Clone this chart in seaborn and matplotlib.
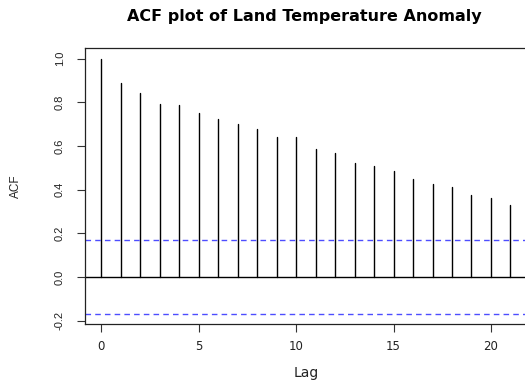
import matplotlib
matplotlib.use("Agg")
import matplotlib.pyplot as plt
import seaborn as sns
import pandas as pd

# Data
lags = list(range(22))
acf_values = [1.000, 0.887, 0.840, 0.790, 0.785, 0.750, 0.723, 0.700, 0.678,
              0.642, 0.639, 0.585, 0.567, 0.521, 0.508, 0.485, 0.448, 0.427,
              0.412, 0.375, 0.361, 0.328]
ci_bound = 0.168
y_ticks = [-0.2, 0.0, 0.2, 0.4, 0.6, 0.8, 1.0]
x_ticks = [0, 5, 10, 15, 20]

sns.set_style("ticks")
plt.rcParams['font.family'] = ['Liberation Sans', 'DejaVu Sans']

# long-form frame: each lag has a segment from 0 to its ACF value
rows = []
for lag, v in zip(lags, acf_values):
    rows.append({"lag": lag, "acf": 0.0})
    rows.append({"lag": lag, "acf": v})
df = pd.DataFrame(rows)

fig = plt.figure(figsize=(5.25, 3.81), dpi=100)
ax = fig.add_axes([85 / 525, 57 / 381, 441.8 / 525, 275.7 / 381])

sns.lineplot(data=df, x="lag", y="acf", units="lag", estimator=None,
             color="black", linewidth=1.0, ax=ax, legend=False)

ax.axhline(0, color="black", linewidth=1.0)
for b in (ci_bound, -ci_bound):
    ax.axhline(b, color="#4d4dff", linewidth=1.0, dashes=(4, 3))

ax.set_xlim(-0.84, 21.84)
ax.set_ylim(-0.2147, 1.0467)
ax.set_xticks(x_ticks)
ax.set_xticklabels([str(t) for t in x_ticks], family=['DejaVu Sans'], fontsize=8.5)
ax.set_yticks(y_ticks)
ax.set_yticklabels([f"{t:.1f}" for t in y_ticks], rotation=90, va="center",
                   family=['Liberation Sans'], fontsize=8)

for s in ax.spines.values():
    s.set_visible(True)
    s.set_color("#222222")
    s.set_linewidth(0.9)

ax.tick_params(axis="both", direction="out", length=5.5, width=0.8,
               color="#333333", labelcolor="#222222")
ax.tick_params(axis="y", pad=9)
ax.tick_params(axis="x", pad=6)

ax.set_xlabel("Lag", fontsize=10, color="#222222", family=['DejaVu Sans'])
ax.set_ylabel("ACF", fontsize=8.5, color="#222222", family=['Liberation Sans'])
ax.xaxis.set_label_coords(0.5, -0.178)
ax.yaxis.set_label_coords(-0.156, 0.5)
for lbl in (ax.xaxis.label, ax.yaxis.label):
    lbl.set_verticalalignment("center")

fig.text(304 / 525, 1 - 17 / 381, "ACF plot of Land Temperature Anomaly",
         ha="center", va="center", fontsize=11.5, fontweight="bold",
         color="black", family=['DejaVu Sans'])

fig.savefig("out.png", dpi=100)
